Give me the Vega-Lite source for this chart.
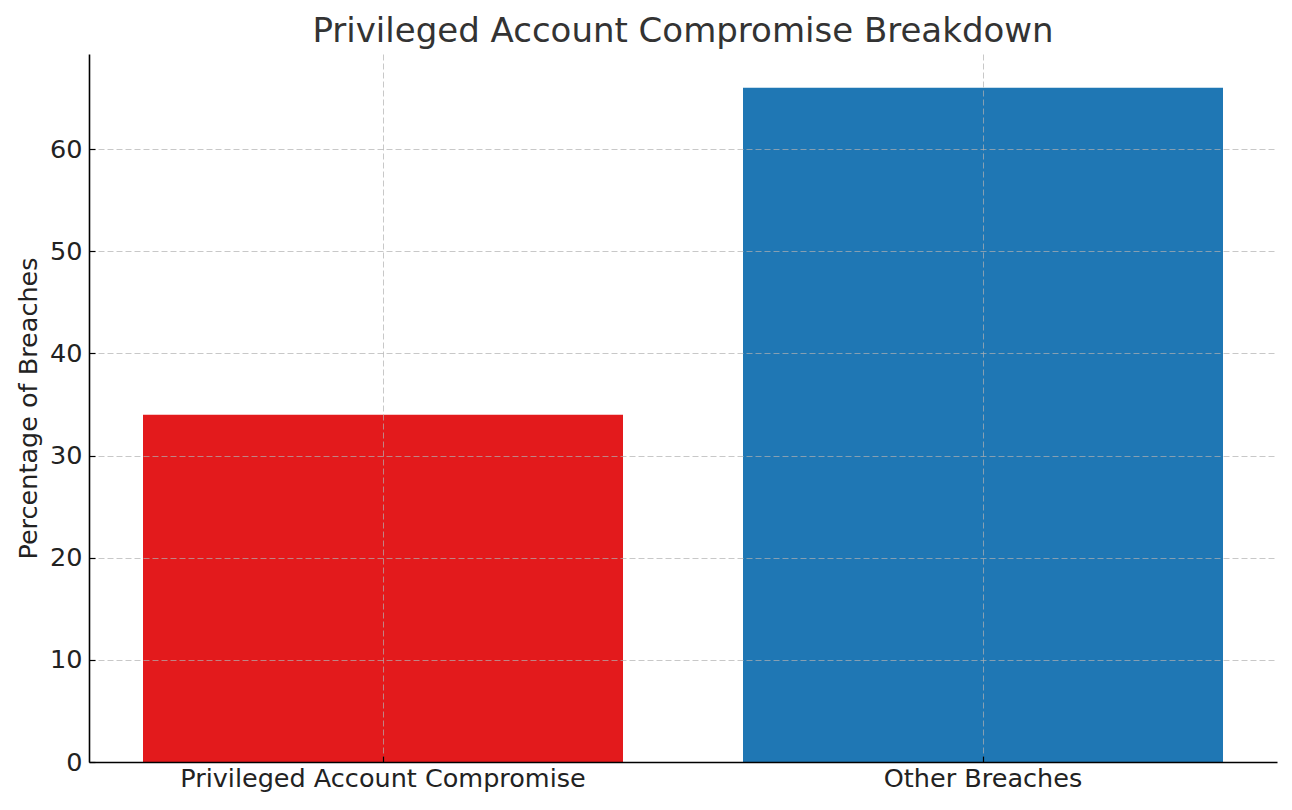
{
  "$schema": "https://vega.github.io/schema/vega-lite/v6.json",
  "width": 1188,
  "height": 708,
  "autosize": {"type": "none"},
  "padding": {"left": 89, "top": 54, "right": 15, "bottom": 48},
  "background": "white",
  "config": {"view": {"stroke": null}, "font": "DejaVu Sans"},
  "title": {
    "text": "Privileged Account Compromise Breakdown",
    "fontSize": 34,
    "font": "DejaVu Sans",
    "fontWeight": "normal",
    "color": "#333333",
    "anchor": "middle",
    "offset": 5
  },
  "data": {
    "values": [
      {"category": "Privileged Account Compromise", "percentage": 34},
      {"category": "Other Breaches", "percentage": 66}
    ]
  },
  "mark": {"type": "bar"},
  "encoding": {
    "x": {
      "field": "category",
      "type": "nominal",
      "sort": null,
      "scale": {"paddingInner": 0.2, "paddingOuter": 0.09},
      "axis": {
        "title": null,
        "labelAngle": 0,
        "labelLimit": 0,
        "labelFontSize": 25.5,
        "labelFont": "DejaVu Sans",
        "labelColor": "#222222",
        "labelPadding": 10,
        "domainColor": "#000000",
        "domainWidth": 1.6,
        "tickColor": "#000000",
        "tickSize": -6,
        "tickWidth": 1.2,
        "grid": true,
        "gridColor": "#b0b0b0",
        "gridOpacity": 0.7,
        "gridDash": [6, 3],
        "gridWidth": 1,
        "bandPosition": 0.5,
        "zindex": 1
      }
    },
    "y": {
      "field": "percentage",
      "type": "quantitative",
      "scale": {"domain": [0, 69.3], "nice": false},
      "axis": {
        "title": "Percentage of Breaches",
        "titleFontSize": 25.5,
        "titleFont": "DejaVu Sans",
        "titleFontWeight": "normal",
        "titleColor": "#222222",
        "titlePadding": 8,
        "values": [0, 10, 20, 30, 40, 50, 60],
        "labelFontSize": 25.5,
        "labelFont": "DejaVu Sans",
        "labelColor": "#222222",
        "labelPadding": 13,
        "domainColor": "#000000",
        "domainWidth": 1.6,
        "tickColor": "#000000",
        "tickSize": -6,
        "tickWidth": 1.2,
        "grid": true,
        "gridColor": "#b0b0b0",
        "gridOpacity": 0.7,
        "gridDash": [6, 3],
        "gridWidth": 1,
        "zindex": 1
      }
    },
    "color": {
      "field": "category",
      "type": "nominal",
      "scale": {
        "domain": ["Privileged Account Compromise", "Other Breaches"],
        "range": ["#e31a1c", "#1f77b4"]
      },
      "legend": null
    }
  }
}
